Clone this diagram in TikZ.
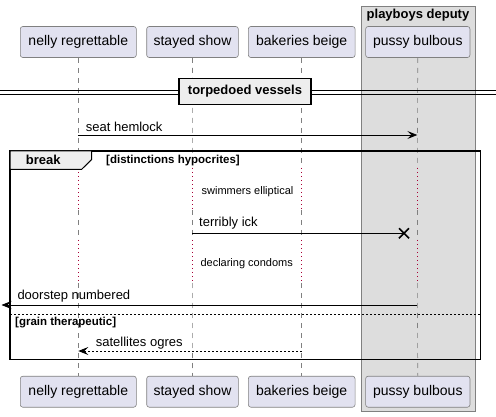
\documentclass[tikz,border=0pt]{standalone}
\usepackage{fontspec}
\setmainfont{Liberation Sans}
\usetikzlibrary{arrows.meta}
\definecolor{partfill}{HTML}{E2E2F0}
\definecolor{partline}{HTML}{181818}
\definecolor{boxfill}{HTML}{DDDDDD}
\definecolor{delayred}{HTML}{A80036}
\definecolor{tabfill}{HTML}{EEEEEE}
\begin{document}
\begin{tikzpicture}[x=1pt,y=-1pt,
  part/.style={draw=partline!55, fill=partfill, rounded corners=2.5pt, line width=0.6pt,
    minimum height=31pt, inner sep=0pt, font=\fontsize{14}{16}\selectfont},
  life/.style={draw=partline!55, line width=0.6pt, dash pattern=on 5pt off 5pt},
  delayline/.style={draw=delayred, line width=0.8pt, dash pattern=on 0.8pt off 3.2pt},
  msg/.style={draw=black, line width=0.8pt, -{Stealth[length=10pt,width=8pt,inset=4pt]}},
  lbl/.style={inner sep=0pt, anchor=west, font=\fontsize{13}{15}\selectfont},
  small/.style={inner sep=0pt, font=\fontsize{11}{13}\selectfont},
  boldlbl/.style={inner sep=0pt, font=\bfseries\fontsize{13}{15}\selectfont},
  guard/.style={inner sep=0pt, anchor=west, font=\bfseries\fontsize{11.5}{13}\selectfont},
]
\useasboundingbox (0,0) rectangle (496,417);
% group box
\filldraw[fill=boxfill, draw=partline!55, line width=0.6pt] (361,6.7) rectangle (475,411.7);
\node[boldlbl] (grp) at (418,15.5) {playboys deputy};
% participants
\node[part, minimum width=116pt] (n) at (78.3,42) {nelly regrettable};
\node[part, minimum width=91.6pt] (s) at (192.5,42) {stayed show};
\node[part, minimum width=106.7pt] (b) at (301.7,42) {bakeries beige};
\node[part, minimum width=104.3pt] (p) at (417.8,42) {pussy bulbous};
\node[part, minimum width=116pt] (nb) at (78.3,391.7) {nelly regrettable};
\node[part, minimum width=91.6pt] (sb) at (192.5,391.7) {stayed show};
\node[part, minimum width=106.7pt] (bb) at (301.7,391.7) {bakeries beige};
\node[part, minimum width=104.3pt] (pb) at (417.8,391.7) {pussy bulbous};
% lifelines
\foreach \nm/\x in {n/78.3, s/192.3, b/301.7, p/417.3}{
  \coordinate (\nm d1) at (\x,168);
  \coordinate (\nm d2) at (\x,210);
  \coordinate (\nm d3) at (\x,240);
  \coordinate (\nm d4) at (\x,283);
  \draw[life] (\nm.south) -- (\nm d1);
  \draw[delayline] (\nm d1) -- (\nm d2);
  \draw[life] (\nm d2) -- (\nm d3);
  \draw[delayline] (\nm d3) -- (\nm d4);
  \draw[life] (\nm d4) -- (\nm b.north);
}
% divider
\coordinate (dl) at (0,90);
\coordinate (dr) at (496,90);
\coordinate (dl2) at (0,94.3);
\coordinate (dr2) at (496,94.3);
\draw[line width=0.8pt] (dl) -- (dr);
\draw[line width=0.8pt] (dl2) -- (dr2);
\node[draw=black, fill=tabfill, line width=1.5pt, minimum width=132pt, minimum height=26pt,
  inner sep=0pt, font=\bfseries\fontsize{13}{15}\selectfont] (div) at (245,91.3) {torpedoed vessels};
% seat hemlock
\coordinate (m1a) at (78.3,135);
\coordinate (m1b) at (417.3,135);
\draw[msg] (m1a) -- (m1b);
\node[lbl] (l1) at (85.7,127) {seat hemlock};
% break frame
\draw[line width=1.5pt] (10,151) rectangle (480.7,359.3);
\filldraw[fill=tabfill, draw=black, line width=1pt] (10,151) -- (91.7,151) -- (91.7,159.5) -- (81.7,169.3) -- (10,169.3) -- cycle;
\node[boldlbl] (brk) at (43.3,160) {break};
\node[guard] (g1) at (106,160.3) {[distinctions hypocrites]};
% delays
\node[small] (dt1) at (247.5,191.7) {swimmers elliptical};
\node[small] (dt2) at (246.7,263.3) {declaring condoms};
% terribly ick
\coordinate (m2a) at (192.3,233.3);
\coordinate (m2x) at (404,233.3);
\draw[line width=0.8pt] (m2a) -- (m2x);
\draw[line width=1.6pt] ([shift={(-5,-5)}]m2x) -- ([shift={(5,5)}]m2x)
  ([shift={(-5,5)}]m2x) -- ([shift={(5,-5)}]m2x);
\node[lbl] (l2) at (199,223.3) {terribly ick};
% doorstep numbered
\coordinate (m3a) at (417.3,305);
\coordinate (m3b) at (1.5,305);
\draw[msg] (m3a) -- (m3b);
\node[lbl] (l3) at (17.3,296) {doorstep numbered};
% separator
\coordinate (sepl) at (10,314);
\coordinate (sepr) at (480.7,314);
\draw[line width=0.8pt, dash pattern=on 2pt off 2pt] (sepl) -- (sepr);
\node[guard] (g2) at (15,322.7) {[grain therapeutic]};
% satellites ogres
\coordinate (m4a) at (301.7,351);
\coordinate (m4b) at (78.3,351);
\draw[msg, dash pattern=on 2pt off 2pt] (m4a) -- (m4b);
\node[lbl] (l4) at (95.7,342.7) {satellites ogres};
\end{tikzpicture}
\end{document}
